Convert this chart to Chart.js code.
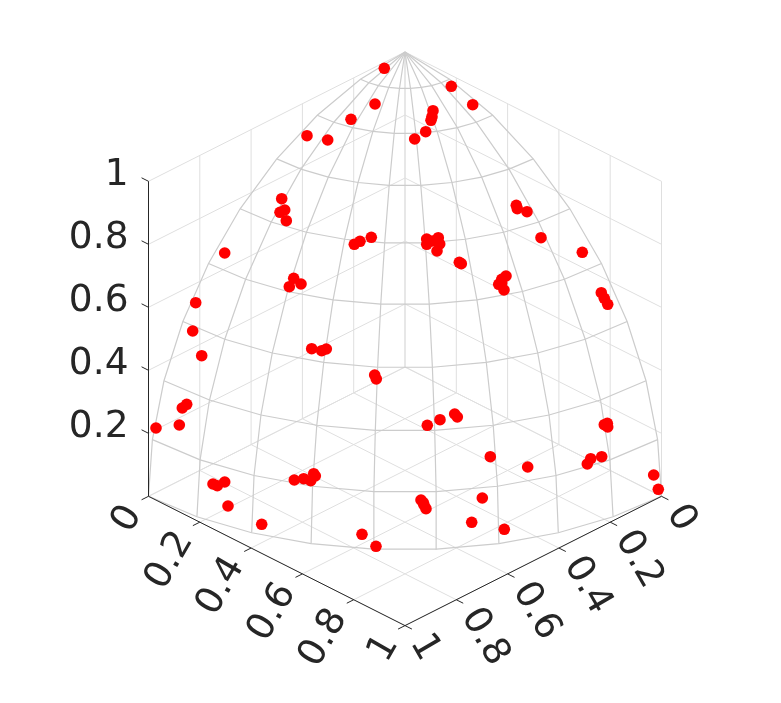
<!DOCTYPE html>
<html><head><meta charset="utf-8">
<style>html,body{margin:0;padding:0;background:#fff}canvas{display:block}</style>
<script src="https://cdn.jsdelivr.net/npm/chart.js@4/dist/chart.umd.min.js"></script>
</head><body><canvas id="c" width="781" height="703"></canvas>
<script>
// Marker positions, in the view plane of the 3-D axes
const viewX = [-20.7,-30,-54,-98,-77.3,-123.3,-120.3,-125,-118.7,-180.3,-33.7,-45,-50.7,-111.3,
 -209.3,-212.3,-203.3,-115.7,-104,-93.3,-83.3,-78.7,-30.3,-28.7,-218.3,-222.7,-225.7,-249,
 -192,-187.7,-180.3,-177,-143.3,-110.7,-101.3,-94.3,-89.7,-91.3,-43,-29,
 46.3,67.7,28,27,26,20.7,9.7,111.3,112.3,122,136,177.3,21.7,33.3,21.7,27.3,34.7,32,54.3,56.3,101,96.7,
 93.7,99,96.7,196.3,199.3,202.7,49.7,52.3,35,22.3,202.3,199.3,202.7,85.3,122.7,196.7,185.7,182.3,248.7,253.3,16,18.3,21,19,77.3,66.7,99.3];
const viewY = [427.7,392,376.7,360.3,356,297.3,286,283.7,275.3,243,258.7,254.7,251.7,217.7,
 193.3,165,140.3,209.3,212,147.3,145.3,147,121,117,91.7,88,71,68,
 12,10.3,14,-10,-28.3,16,17.3,15.3,20,22.3,-38.3,-50.3,
 409.7,391.3,385.3,379.3,375.7,364.3,357,290.7,287.3,284.3,258.3,243.7,257,258.3,251.7,255,252,245,233.7,232.3,220,216.7,
 211.7,206,213,203.3,197.7,191.7,82,79,76.3,70.7,72.7,71.3,69,39.3,29,39.3,37.3,32,21,6.7,-4,-6.7,-12.7,-9,-2,-26.3,-33.3];

// Axis tick labels and grid lines
const xTickLabels = ['0','0.2','0.4','0.6','0.8','1'];
const yTickLabels = ['0','0.2','0.4','0.6','0.8','1'];
const zTickLabels = ['0.2','0.4','0.6','0.8','1'];
const tickValues = [0,0.2,0.4,0.6,0.8,1];
const zTickValues = [0.2,0.4,0.6,0.8,1];
const meshDegrees = [0,10,20,30,40,50,60,70,80,90];
const tickLen = 0.027;

function project(x,y,z){ return {x:256.5*(x-y), y:129-129.3*(x+y)+315*z}; }
function rad(d){return d*Math.PI/180;}
function sphere(phi,el){ return project(Math.cos(rad(el))*Math.cos(rad(phi)),Math.cos(rad(el))*Math.sin(rad(phi)),Math.sin(rad(el))); }
function line(pts,color,w){ return {type:'scatter',showLine:true,data:pts,borderColor:color,borderWidth:w,pointRadius:0,pointHoverRadius:0,fill:false,tension:0}; }

const GRID='#dfdfdf', MESH='#cccccc', AXIS='#262626';
const datasets=[{type:'scatter',data:viewX.map((v,i)=>({x:v,y:viewY[i]})),backgroundColor:'#ff0000',borderColor:'#ff0000',borderWidth:0,pointRadius:5.8,pointHoverRadius:5.8}];

// axes and ticks
datasets.push(line([project(0,1,0),project(1,1,0),project(1,0,0)],AXIS,1));
datasets.push(line([project(0,1,0),project(0,1,1)],AXIS,1));
tickValues.forEach(t=>{
  datasets.push(line([project(t,1,0),project(t,1+tickLen,0)],AXIS,1));
  datasets.push(line([project(1,t,0),project(1+tickLen,t,0)],AXIS,1));
});
zTickValues.forEach(t=>datasets.push(line([project(0,1,t),project(-tickLen,1,t)],AXIS,1)));

// sphere mesh
meshDegrees.forEach(p=>datasets.push(line(meshDegrees.map(e=>sphere(p,e)),MESH,1.2)));
meshDegrees.slice(0,-1).forEach(e=>datasets.push(line(meshDegrees.map(p=>sphere(p,e)),MESH,1.2)));

// walls and floor
tickValues.forEach(t=>{
  datasets.push(line([project(t,0,0),project(t,1,0)],GRID,1));
  datasets.push(line([project(0,t,0),project(1,t,0)],GRID,1));
  datasets.push(line([project(t,0,0),project(t,0,1)],GRID,1));
  datasets.push(line([project(0,t,0),project(0,t,1)],GRID,1));
  datasets.push(line([project(1,0,t),project(0,0,t)],GRID,1));
  datasets.push(line([project(0,1,t),project(0,0,t)],GRID,1));
});

const tickText={id:'tickText',afterDraw(chart){
  const c=chart.ctx,sx=chart.scales.x,sy=chart.scales.y;
  const px=p=>({x:sx.getPixelForValue(p.x),y:sy.getPixelForValue(p.y)});
  c.save();c.fillStyle=AXIS;c.font='37.5px "DejaVu Sans"';c.textBaseline='middle';
  const put=(s,p,dx,dy,rot,al)=>{c.save();c.translate(p.x+dx,p.y+dy);c.rotate(rot);c.textAlign=al;c.fillText(s,0,0);c.restore();};
  zTickLabels.forEach((s,i)=>put(s,px(project(0,1,zTickValues[i])),-20,-6,0,'right'));
  xTickLabels.forEach((s,i)=>put(s,px(project(tickValues[i],1,0)),-15,12.5,rad(-60),'right'));
  yTickLabels.forEach((s,i)=>put(s,px(project(1,tickValues[i],0)),13.5,11.5,rad(60),'left'));
  c.restore();
}};

new Chart(document.getElementById('c'),{
  data:{datasets},
  plugins:[tickText],
  options:{responsive:false,animation:false,events:[],layout:{padding:0,autoPadding:false},
    plugins:{legend:{display:false},tooltip:{enabled:false},title:{display:false}},
    scales:{
      x:{type:'linear',min:-405,max:376,display:false},
      y:{type:'linear',min:-207,max:496,display:false}
    }}
});
</script></body></html>
